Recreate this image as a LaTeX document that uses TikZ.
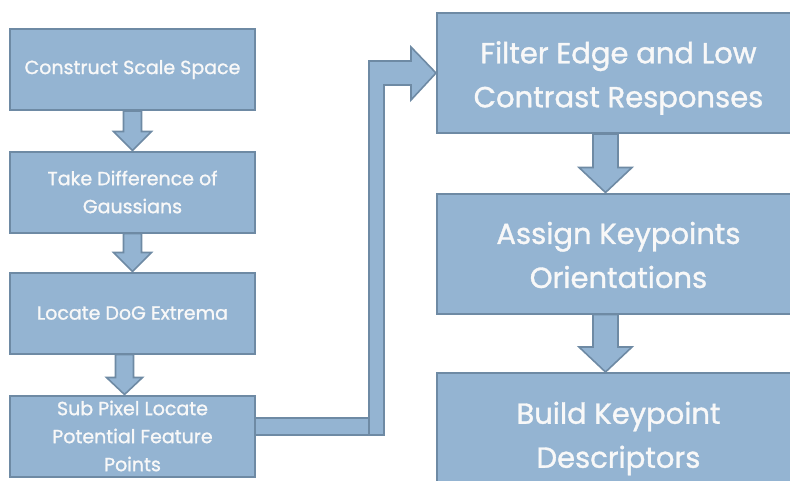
\documentclass[tikz,border=0pt]{standalone}
\usepackage{fontspec}
\setmainfont{Poppins}[FakeBold=1.2]
\usetikzlibrary{calc,backgrounds}
\definecolor{boxfill}{HTML}{94B4D2}
\definecolor{boxline}{HTML}{6E8AA4}
\definecolor{boxtext}{HTML}{F8F8F8}
\tikzset{
  box/.style={draw=boxline, fill=boxfill, line width=2pt, text=boxtext,
    align=center, inner sep=0pt},
  lbox/.style={box, minimum width=245pt, minimum height=81pt,
    font=\fontsize{19}{28}\selectfont},
  rbox/.style={box, minimum width=363pt, minimum height=120pt},
  rtext/.style={text=boxtext, align=center, inner sep=0pt,
    font=\fontsize{29}{44}\selectfont},
  blockarrow/.style={draw=boxline, fill=boxfill, line width=1.6pt, line join=miter}
}
% downward block arrow: source, target, x shift, shaft half width, head half width, head length
\newcommand\downblock[6]{%
  \draw[blockarrow]
    ($(#1.south)+(#3-#4,0)$) -- ($(#2.north)+(#3-#4,-#6)$) --
    ($(#2.north)+(#3-#5,-#6)$) -- ($(#2.north)+(#3,0)$) --
    ($(#2.north)+(#3+#5,-#6)$) -- ($(#2.north)+(#3+#4,-#6)$) --
    ($(#1.south)+(#3+#4,0)$) -- cycle;}
\begin{document}
\begin{tikzpicture}[x=1pt,y=-1pt]
  \clip (0,0) rectangle (790,480);

  % left column
  \node[lbox] (L1) at (132.5,69.5) {\raisebox{-2pt}{Construct Scale Space}};
  \node[lbox] (L2) at (132.5,192) {Take Difference of\\Gaussians};
  \node[lbox] (L3) at (132.5,313) {\raisebox{-1.5pt}{Locate DoG Extrema}};
  \node[lbox] (L4) at (132.5,436) {Sub Pixel Locate\\Potential Feature\\Points};

  % right column: boxes, then their captions
  \node[rbox] (R1) at (618.5,73) {};
  \node[rbox] (R2) at (618.5,253.5) {};
  \node[rbox] (R3) at (618.5,433) {};
  \node[rtext] (R1t) at ($(R1.center)+(0,5)$) {Filter Edge and Low\\Contrast Responses};
  \node[rtext] (R2t) at ($(R2.center)+(0,1.5)$) {Assign Keypoints\\Orientations};
  \node[rtext] (R3t) at ($(R3.center)+(0,5.5)$) {Build Keypoint\\Descriptors};

  \begin{pgfonlayer}{background}
    \fill[white] (0,0) rectangle (790,480);
    \downblock{L1}{L2}{0}{9}{19}{19}
    \downblock{L2}{L3}{0}{9}{19}{19}
    \downblock{L3}{L4}{-8}{9}{18}{17}
    \downblock{R1}{R2}{-13}{12.5}{26.5}{25}
    \downblock{R2}{R3}{-13}{12.5}{26.5}{25}

    % elbow connector from the last left step to the first right step
    \coordinate (bend) at ($(L4.east)+(121,0)$);
    \draw[blockarrow]
      ($(L4.east)+(-2,-18)$) -- ($(bend)+(7,-18)$) --
      ($(bend)+(7,-1)$) -- ($(L4.east)+(-2,-1)$) -- cycle;
    \draw[blockarrow]
      ($(bend)+(-8,-1)$) -- ($(bend |- R1.west)+(-8,-12)$) --
      ($(R1.west)+(-25,-12)$) -- ($(R1.west)+(-25,-26)$) --
      (R1.west) --
      ($(R1.west)+(-25,27)$) -- ($(R1.west)+(-25,12)$) --
      ($(bend |- R1.west)+(7,12)$) -- ($(bend)+(7,-1)$) -- cycle;
  \end{pgfonlayer}
\end{tikzpicture}
\end{document}
